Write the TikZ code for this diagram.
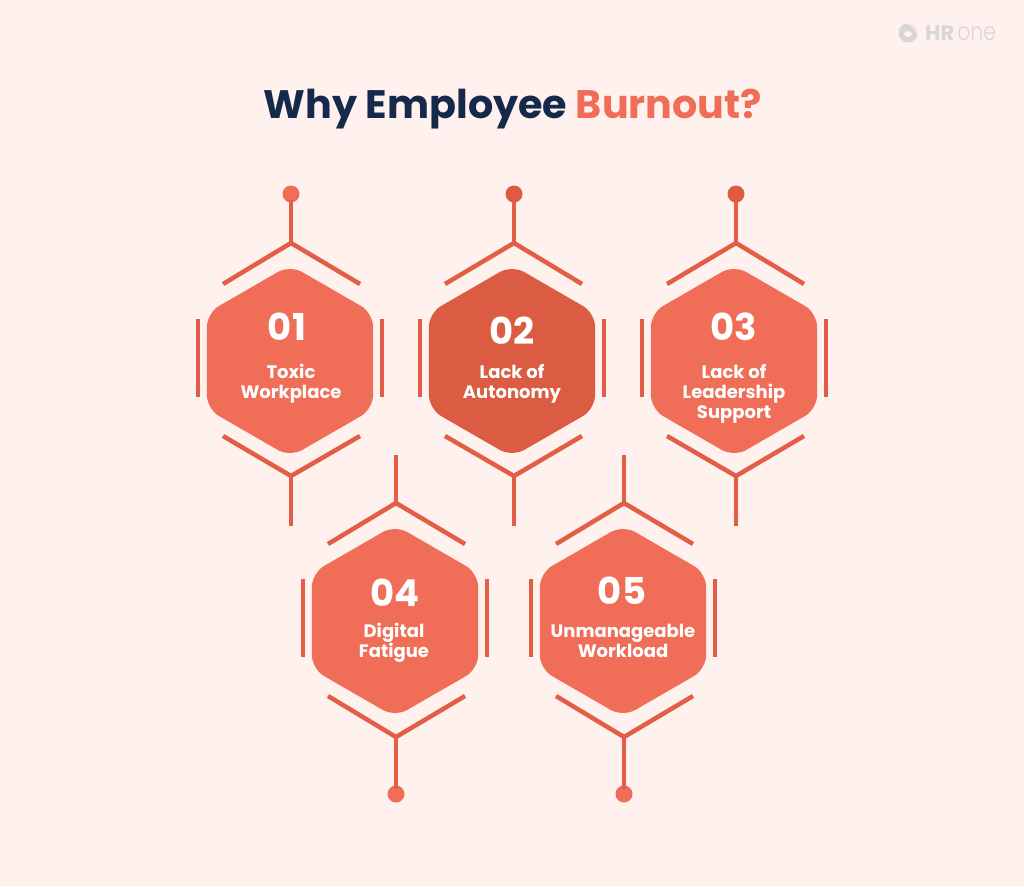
\documentclass[tikz,border=0pt]{standalone}
\usepackage{fontspec}
\setmainfont{Poppins}
\newfontfamily\lightfont[FakeStretch=0.82]{Poppins Light}
\usetikzlibrary{shapes.geometric}
\definecolor{paper}{HTML}{FFF1ED}
\definecolor{navy}{HTML}{14294B}
\definecolor{coral}{HTML}{F06E57}
\definecolor{rust}{HTML}{DB5C43}
\definecolor{wire}{HTML}{E25E47}
\definecolor{logogrey}{HTML}{D9D6D5}

\begin{document}
\begin{tikzpicture}[x=1pt,y=-1pt]
  \tikzstyle{hexa} = [regular polygon,regular polygon sides=6,regular polygon rotate=30,
  minimum size=192pt,inner sep=0pt,outer sep=0pt,rounded corners=14pt,fill=coral]
  \tikzstyle{num} = [text=white,font=\fontsize{37}{37}\selectfont\bfseries,inner sep=0pt]
  \tikzstyle{lbl} = [text=white,font=\fontsize{18}{20.3}\selectfont\bfseries,align=center,inner sep=0pt]
  \tikzstyle{knob} = [circle,minimum size=17pt,inner sep=0pt,outer sep=0pt,fill=coral]
  \tikzstyle{wired} = [line width=4.5pt,draw=wire]
  \tikzstyle{stem} = [wired,shorten <=-3pt]

  \path[use as bounding box,fill=paper] (0,0) rectangle (1024,886);

  \node[name=title,font=\fontsize{39.7}{40}\selectfont\bfseries,inner sep=0pt] at (513,109)
  {\textcolor{navy}{Why Employee} \textcolor{coral}{Burnout?}};

  % logo
  \node[circle,fill=logogrey,minimum size=19pt,inner sep=0pt,name=logoicon] at (908,33) {};
  \node[ellipse,fill=paper,minimum width=8pt,minimum height=6pt,inner sep=0pt,name=logoeye] at (908,34) {};
  \draw[paper,line width=1.2pt] (logoicon.north) .. controls (914,27) .. (logoicon.east);
  \node[anchor=base west,inner sep=0pt,text=logogrey,name=logotext] at (925,40)
  {\fontsize{21}{21}\selectfont\textbf{HR}\kern3pt\fontsize{25}{25}\selectfont\lightfont one};

  % hexagons
  \node[hexa,name=h1] at (290,361) {};
  \node[hexa,name=h2,fill=rust] at (512,361) {};
  \node[hexa,name=h3] at (734,361) {};
  \node[hexa,name=h4] at (395,621) {};
  \node[hexa,name=h5] at (623,621) {};

  % numbers and labels
  \node[num,name=n1] at (287,327) {01};
  \node[lbl,name=l1] at (291,384) {Toxic\\Workplace};
  \node[num,name=n2] at (512,331) {02};
  \node[lbl,name=l2] at (512,384) {Lack of\\Autonomy};
  \node[num,name=n3] at (734,327) {03};
  \node[lbl,name=l3] at (734,394) {Lack of\\Leadership\\Support};
  \node[num,name=n4] at (395,593) {04};
  \node[lbl,name=l4] at (394,643) {Digital\\Fatigue};
  \node[num,name=n5] at (622,591) {05};
  \node[lbl,name=l5] at (623,641) {Unmanageable\\Workload};

  % first group
  \node[knob,name=k1] at (291,194) {};
  \node[coordinate,name=ta1] at (291,243) {};
  \node[coordinate,name=tl1] at (223,284) {};
  \node[coordinate,name=tr1] at (360,284) {};
  \node[coordinate,name=ba1] at (291,476) {};
  \node[coordinate,name=bl1] at (223,436) {};
  \node[coordinate,name=br1] at (360,436) {};
  \node[coordinate,name=e1] at (291,526) {};
  \node[coordinate,name=lu1] at (198,319) {};
  \node[coordinate,name=ld1] at (198,397) {};
  \node[coordinate,name=ru1] at (382,319) {};
  \node[coordinate,name=rd1] at (382,397) {};
  \path (k1) edge[stem] (ta1);
  \draw[wired,line join=miter] (tl1) -- (ta1) -- (tr1);
  \draw[wired,line join=miter] (bl1) -- (ba1) -- (br1);
  \path (ba1) edge[wired] (e1);
  \path (lu1) edge[wired] (ld1);
  \path (ru1) edge[wired] (rd1);

  % second group
  \node[knob,name=k2,fill=rust] at (514,194) {};
  \node[coordinate,name=ta2] at (514,243) {};
  \node[coordinate,name=tl2] at (445,284) {};
  \node[coordinate,name=tr2] at (582,284) {};
  \node[coordinate,name=ba2] at (514,476) {};
  \node[coordinate,name=bl2] at (445,436) {};
  \node[coordinate,name=br2] at (582,436) {};
  \node[coordinate,name=e2] at (514,526) {};
  \node[coordinate,name=lu2] at (420,319) {};
  \node[coordinate,name=ld2] at (420,397) {};
  \node[coordinate,name=ru2] at (604,319) {};
  \node[coordinate,name=rd2] at (604,397) {};
  \path (k2) edge[stem] (ta2);
  \draw[wired,line join=miter] (tl2) -- (ta2) -- (tr2);
  \draw[wired,line join=miter] (bl2) -- (ba2) -- (br2);
  \path (ba2) edge[wired] (e2);
  \path (lu2) edge[wired] (ld2);
  \path (ru2) edge[wired] (rd2);

  % third group
  \node[knob,name=k3,fill=rust] at (736,194) {};
  \node[coordinate,name=ta3] at (736,243) {};
  \node[coordinate,name=tl3] at (667,284) {};
  \node[coordinate,name=tr3] at (804,284) {};
  \node[coordinate,name=ba3] at (736,476) {};
  \node[coordinate,name=bl3] at (667,436) {};
  \node[coordinate,name=br3] at (804,436) {};
  \node[coordinate,name=e3] at (736,526) {};
  \node[coordinate,name=lu3] at (642,319) {};
  \node[coordinate,name=ld3] at (642,397) {};
  \node[coordinate,name=ru3] at (826,319) {};
  \node[coordinate,name=rd3] at (826,397) {};
  \path (k3) edge[stem] (ta3);
  \draw[wired,line join=miter] (tl3) -- (ta3) -- (tr3);
  \draw[wired,line join=miter] (bl3) -- (ba3) -- (br3);
  \path (ba3) edge[wired] (e3);
  \path (lu3) edge[wired] (ld3);
  \path (ru3) edge[wired] (rd3);

  % fourth group
  \node[coordinate,name=e4] at (396,455) {};
  \node[coordinate,name=ta4] at (396,503) {};
  \node[coordinate,name=tl4] at (328,544) {};
  \node[coordinate,name=tr4] at (465,544) {};
  \node[coordinate,name=ba4] at (396,737) {};
  \node[coordinate,name=bl4] at (328,696) {};
  \node[coordinate,name=br4] at (465,696) {};
  \node[knob,name=k4] at (396,794) {};
  \node[coordinate,name=lu4] at (303,579) {};
  \node[coordinate,name=ld4] at (303,657) {};
  \node[coordinate,name=ru4] at (487,579) {};
  \node[coordinate,name=rd4] at (487,657) {};
  \path (e4) edge[wired] (ta4);
  \draw[wired,line join=miter] (tl4) -- (ta4) -- (tr4);
  \draw[wired,line join=miter] (bl4) -- (ba4) -- (br4);
  \path (k4) edge[stem] (ba4);
  \path (lu4) edge[wired] (ld4);
  \path (ru4) edge[wired] (rd4);

  % fifth group
  \node[coordinate,name=e5] at (624,455) {};
  \node[coordinate,name=ta5] at (624,503) {};
  \node[coordinate,name=tl5] at (556,544) {};
  \node[coordinate,name=tr5] at (693,544) {};
  \node[coordinate,name=ba5] at (624,737) {};
  \node[coordinate,name=bl5] at (556,696) {};
  \node[coordinate,name=br5] at (693,696) {};
  \node[knob,name=k5] at (624,794) {};
  \node[coordinate,name=lu5] at (531,579) {};
  \node[coordinate,name=ld5] at (531,657) {};
  \node[coordinate,name=ru5] at (715,579) {};
  \node[coordinate,name=rd5] at (715,657) {};
  \path (e5) edge[wired] (ta5);
  \draw[wired,line join=miter] (tl5) -- (ta5) -- (tr5);
  \draw[wired,line join=miter] (bl5) -- (ba5) -- (br5);
  \path (k5) edge[stem] (ba5);
  \path (lu5) edge[wired] (ld5);
  \path (ru5) edge[wired] (rd5);
\end{tikzpicture}
\end{document}
